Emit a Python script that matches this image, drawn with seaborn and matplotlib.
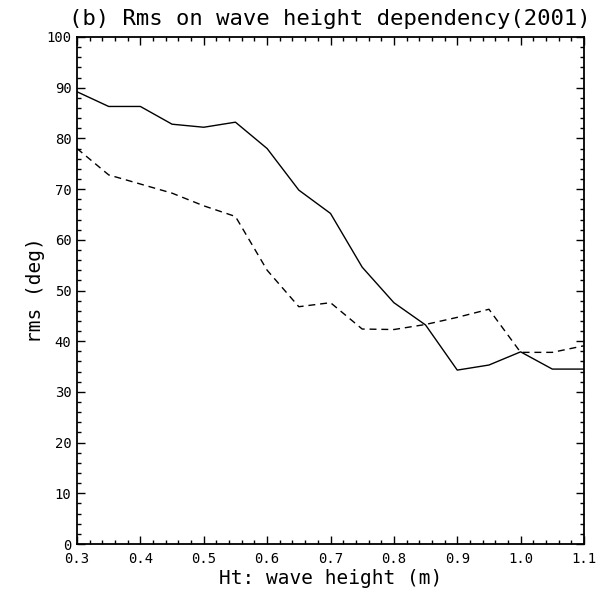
import numpy as np
import pandas as pd
import seaborn as sns
import matplotlib
matplotlib.use("Agg")
import matplotlib.pyplot as plt
from matplotlib.ticker import MultipleLocator, FormatStrFormatter

# Data
wave_height = [0.30, 0.35, 0.40, 0.45, 0.50, 0.55, 0.60, 0.65, 0.70,
               0.75, 0.80, 0.85, 0.90, 0.95, 1.00, 1.05, 1.10]
rms_solid = [89.2, 86.3, 86.3, 82.8, 82.2, 83.2, 78.0, 69.8, 65.2,
             54.6, 47.6, 43.2, 34.3, 35.3, 37.9, 34.5, 34.5]
rms_dashed = [78.0, 72.8, 71.0, 69.2, 66.7, 64.6, 54.0, 46.8, 47.6,
              42.4, 42.3, 43.3, 44.7, 46.3, 37.8, 37.8, 39.1]

title = "(b) Rms on wave height dependency(2001)"
xlabel = "Ht: wave height (m)"
ylabel = "rms (deg)"

sns.set_theme(style="ticks")
plt.rcParams['font.family'] = ['DejaVu Sans Mono', 'DejaVu Sans']
plt.rcParams['text.color'] = 'black'
plt.rcParams['axes.labelcolor'] = 'black'

df = pd.DataFrame({"ht": wave_height, "solid": rms_solid, "dashed": rms_dashed})

fig = plt.figure(figsize=(6.07, 5.92), dpi=100)
ax = fig.add_axes([77/607, 1-544/592, (584-77)/607, (544-37)/592])

sns.lineplot(data=df, x="ht", y="solid", ax=ax, color="black", lw=1.0)
sns.lineplot(data=df, x="ht", y="dashed", ax=ax, color="black", lw=1.0,
             linestyle=(0, (5, 3.5)))

ax.set_xlim(0.3, 1.1)
ax.set_ylim(0, 100)
ax.xaxis.set_major_locator(MultipleLocator(0.1))
ax.xaxis.set_minor_locator(MultipleLocator(0.02))
ax.yaxis.set_major_locator(MultipleLocator(10))
ax.yaxis.set_minor_locator(MultipleLocator(2))
ax.xaxis.set_major_formatter(FormatStrFormatter("%.1f"))
ax.tick_params(which="both", direction="in", top=True, right=True,
               colors="black", labelcolor="black", width=1.0, labelsize=10)
ax.tick_params(which="major", length=6)
ax.tick_params(axis="x", which="major", pad=6)
ax.tick_params(axis="y", which="major", pad=4)
ax.tick_params(which="minor", length=3)
for s in ax.spines.values():
    s.set_linewidth(1.3)
    s.set_color("black")
    s.set_visible(True)

ax.set_xlabel(xlabel, fontsize=14, labelpad=2, color="black")
ax.set_ylabel(ylabel, fontsize=14, labelpad=1, color="black")
fig.text(330/607, 1-19/592, title, fontsize=16, ha="center", va="center",
         color="black")

fig.savefig("out.png", dpi=100)
